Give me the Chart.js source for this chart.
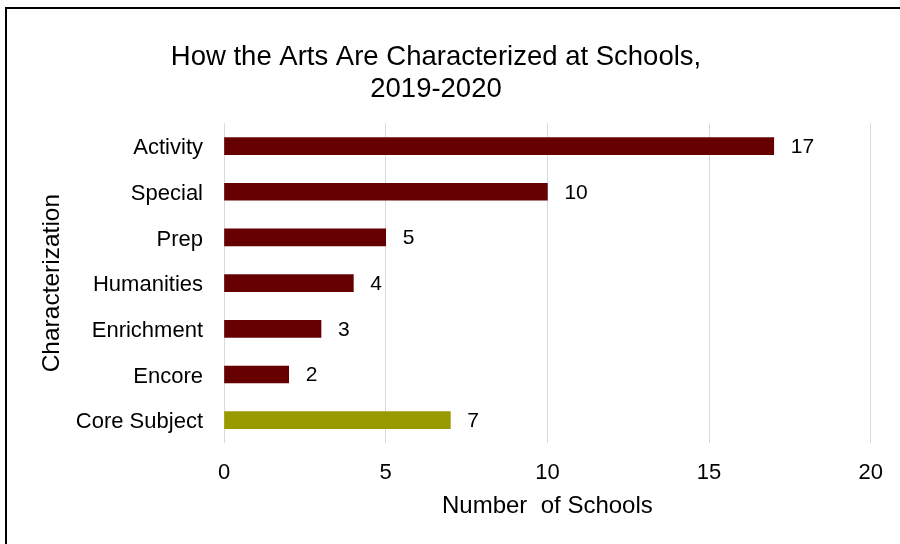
<!DOCTYPE html>
<html lang="en">
<head>
<meta charset="utf-8">
<title>How the Arts Are Characterized at Schools, 2019-2020</title>
<script src="https://cdn.jsdelivr.net/npm/chart.js@4.4.1/dist/chart.umd.min.js"></script>
<style>
  html, body { margin: 0; padding: 0; background: #fff; }
  #arts-chart { display: block; }
</style>
</head>
<body>
<canvas id="arts-chart" width="900" height="544"></canvas>
<script>
// ========================================
// Data
// ========================================

const categories = ['Activity', 'Special', 'Prep', 'Humanities', 'Enrichment', 'Encore', 'Core Subject'];
const schoolCounts = [17, 10, 5, 4, 3, 2, 7];
const barColors = ['#660000', '#660000', '#660000', '#660000', '#660000', '#660000', '#999900'];
const xTicks = [0, 5, 10, 15, 20];

const chartTitle = ['How the Arts Are Characterized at Schools,', '2019-2020'];
const xAxisTitle = 'Number  of Schools';
const yAxisTitle = 'Characterization';

// ========================================
// Plugins
// ========================================

// white background + frame around the chart
const framePlugin = {
  id: 'frame',
  beforeDraw(chart) {
    const ctx = chart.ctx;
    ctx.save();
    ctx.fillStyle = '#fff';
    ctx.fillRect(0, 0, chart.width, chart.height);
    ctx.strokeStyle = '#000';
    ctx.lineWidth = 2;
    ctx.strokeRect(6, 8, chart.width + 20, chart.height + 20);
    ctx.restore();
  }
};

// value labels to the right of each bar
const valueLabelPlugin = {
  id: 'valueLabels',
  afterDatasetsDraw(chart) {
    const ctx = chart.ctx;
    const meta = chart.getDatasetMeta(0);
    ctx.save();
    ctx.font = '21px "Liberation Sans", Arial, sans-serif';
    ctx.fillStyle = '#000';
    ctx.textAlign = 'left';
    ctx.textBaseline = 'middle';
    meta.data.forEach(function(bar, i) {
      ctx.fillText(String(schoolCounts[i]), bar.x + 17, bar.y + 1);
    });
    ctx.restore();
  }
};

// ========================================
// Chart
// ========================================

Chart.defaults.font.family = '"Liberation Sans", Arial, sans-serif';
Chart.defaults.color = '#000';

const ctx = document.getElementById('arts-chart').getContext('2d');

const chart = new Chart(ctx, {
  type: 'bar',
  data: {
    labels: categories,
    datasets: [{
      label: 'Number of Schools',
      data: schoolCounts,
      backgroundColor: barColors,
      borderWidth: 0,
      barThickness: 17
    }]
  },
  options: {
    indexAxis: 'y',
    responsive: false,
    animation: false,
    layout: {
      padding: { top: 42, right: 28, bottom: 0, left: 0 }
    },
    plugins: {
      legend: { display: false },
      tooltip: { enabled: false },
      title: {
        display: true,
        text: chartTitle,
        color: '#000',
        font: { size: 27.5, weight: 'normal', lineHeight: 1.15 },
        padding: { top: 0, bottom: 18 }
      }
    },
    scales: {
      x: {
        min: 0,
        max: 20,
        afterBuildTicks: function(scale) {
          scale.ticks = xTicks.map(v => ({ value: v }));
        },
        afterFit: function(scale) {
          scale.height = 101;
        },
        grid: {
          color: '#d9d9d9',
          lineWidth: 1,
          drawTicks: false
        },
        border: { display: false },
        ticks: {
          color: '#000',
          font: { size: 22 },
          padding: 17
        },
        title: {
          display: true,
          text: xAxisTitle,
          color: '#000',
          font: { size: 24 },
          padding: { top: 0, bottom: 23 }
        }
      },
      y: {
        afterFit: function(scale) {
          scale.width = 224;
        },
        grid: { display: false, drawTicks: false },
        border: { display: false },
        ticks: {
          color: '#000',
          font: { size: 22 },
          padding: 21,
          labelOffset: 2
        },
        title: {
          display: true,
          text: yAxisTitle,
          color: '#000',
          font: { size: 24.5 },
          padding: { top: 38, bottom: 0 }
        }
      }
    }
  },
  plugins: [framePlugin, valueLabelPlugin]
});
</script>
</body>
</html>
